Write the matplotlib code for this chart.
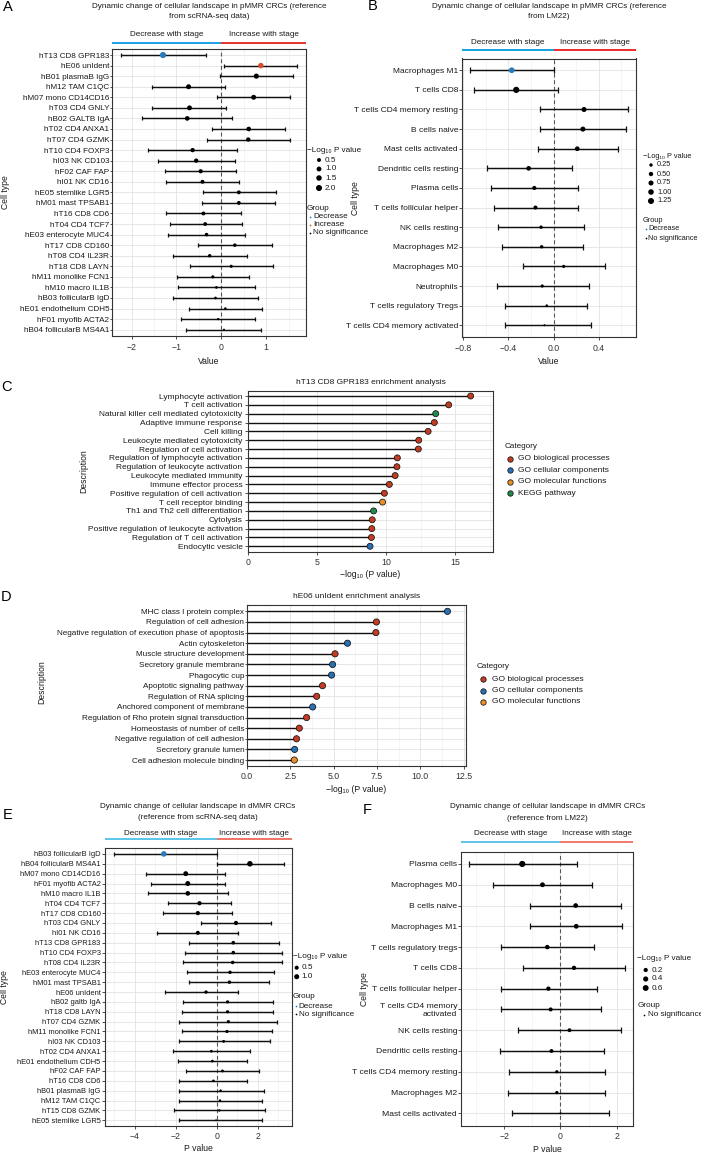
import numpy as np
import matplotlib
matplotlib.use('Agg')
import matplotlib.pyplot as plt
import matplotlib.transforms as mtransforms

plt.rcParams['font.family'] = ['Liberation Sans', 'DejaVu Sans']

W, H = 701, 1154

# ---------------- A: pMMR, scRNA-seq reference ----------------
a_cells = ['hT13 CD8 GPR183', 'hE06 unIdent', 'hB01 plasmaB IgG', 'hM12 TAM C1QC',
           'hM07 mono CD14CD16', 'hT03 CD4 GNLY', 'hB02 GALTB IgA', 'hT02 CD4 ANXA1',
           'hT07 CD4 GZMK', 'hT10 CD4 FOXP3', 'hI03 NK CD103', 'hF02 CAF FAP',
           'hI01 NK CD16', 'hE05 stemlike LGR5', 'hM01 mast TPSAB1', 'hT16 CD8 CD6',
           'hT04 CD4 TCF7', 'hE03 enterocyte MUC4', 'hT17 CD8 CD160', 'hT08 CD4 IL23R',
           'hT18 CD8 LAYN', 'hM11 monolike FCN1', 'hM10 macro IL1B', 'hB03 follicularB IgD',
           'hE01 endothelium CDH5', 'hF01 myofib ACTA2', 'hB04 follicularB MS4A1']
a_est = [-1.30, 0.88, 0.78, -0.73, 0.72, -0.71, -0.76, 0.61, 0.60, -0.64,
         -0.56, -0.46, -0.42, 0.39, 0.39, -0.40, -0.36, -0.33, 0.30, -0.26,
         0.22, -0.19, -0.11, -0.13, 0.09, -0.07, 0.06]
a_lo = [-2.24, 0.06, -0.04, -1.54, -0.10, -1.54, -1.76, -0.20, -0.32, -1.64,
        -1.41, -1.25, -1.24, -0.41, -0.42, -1.24, -1.14, -1.19, -0.53, -1.08,
        -0.70, -0.99, -0.96, -1.07, -0.71, -0.89, -0.79]
a_hi = [-0.35, 1.69, 1.59, 0.08, 1.53, 0.11, 0.24, 1.42, 1.53, 0.36,
        0.31, 0.33, 0.40, 1.21, 1.20, 0.44, 0.45, 0.53, 1.14, 0.57,
        1.16, 0.62, 0.74, 0.82, 0.90, 0.76, 0.89]
a_logp = [2.15, 1.47, 1.22, 1.11, 1.08, 1.04, 0.87, 0.86, 0.69, 0.68,
          0.70, 0.60, 0.50, 0.46, 0.46, 0.45, 0.43, 0.34, 0.32, 0.27,
          0.19, 0.19, 0.10, 0.10, 0.08, 0.05, 0.04]
a_group = ['Decrease', 'Increase'] + ['No significance'] * 25
a_ticks = [-2, -1, 0, 1]
a_ticklabels = ['\u22122', '\u22121', '0', '1']
a_size_keys = [0.5, 1.0, 1.5, 2.0]

# ---------------- B: pMMR, LM22 reference ----------------
b_cells = ['Macrophages M1', 'T cells CD8', 'T cells CD4 memory resting', 'B cells naive',
           'Mast cells activated', 'Dendritic cells resting', 'Plasma cells',
           'T cells follicular helper', 'NK cells resting', 'Macrophages M2',
           'Macrophages M0', 'Neutrophils', 'T cells regulatory Tregs',
           'T cells CD4 memory activated']
b_est = [-0.37, -0.33, 0.27, 0.26, 0.21, -0.22, -0.17, -0.16, -0.11, -0.105, 0.09, -0.10, -0.06, -0.08]
b_lo = [-0.74, -0.70, -0.12, -0.12, -0.14, -0.59, -0.55, -0.53, -0.49, -0.46, -0.27, -0.50, -0.43, -0.43]
b_hi = [0.00, 0.04, 0.66, 0.64, 0.57, 0.16, 0.22, 0.22, 0.27, 0.26, 0.46, 0.31, 0.30, 0.33]
b_logp = [1.10, 1.35, 0.76, 0.75, 0.61, 0.60, 0.42, 0.40, 0.24, 0.24, 0.20, 0.20, 0.12, 0.10]
b_group = ['Decrease'] + ['No significance'] * 13
b_ticks = [-0.8, -0.4, 0.0, 0.4]
b_ticklabels = ['\u22120.8', '\u22120.4', '0.0', '0.4']
b_size_keys = [0.25, 0.50, 0.75, 1.00, 1.25]

# ---------------- C: hT13 CD8 GPR183 enrichment ----------------
c_terms = ['Lymphocyte activation', 'T cell activation',
           'Natural killer cell mediated cytotoxicity', 'Adaptive immune response',
           'Cell killing', 'Leukocyte mediated cytotoxicity', 'Regulation of cell activation',
           'Regulation of lymphocyte activation', 'Regulation of leukocyte activation',
           'Leukocyte mediated immunity', 'Immune effector process',
           'Positive regulation of cell activation', 'T cell receptor binding',
           'Th1 and Th2 cell differentiation', 'Cytolysis',
           'Positive regulation of leukocyte activation', 'Regulation of T cell activation',
           'Endocytic vesicle']
c_vals = [16.13, 14.54, 13.60, 13.50, 13.05, 12.37, 12.34, 10.82, 10.79, 10.66,
          10.24, 9.88, 9.75, 9.10, 9.00, 8.97, 8.94, 8.84]
c_cats = ['GO biological processes', 'GO biological processes', 'KEGG pathway',
          'GO biological processes', 'GO biological processes', 'GO biological processes',
          'GO biological processes', 'GO biological processes', 'GO biological processes',
          'GO biological processes', 'GO biological processes', 'GO biological processes',
          'GO molecular functions', 'KEGG pathway', 'GO biological processes',
          'GO biological processes', 'GO biological processes', 'GO cellular components']
c_ticks = [0, 5, 10, 15]
c_ticklabels = ['0', '5', '10', '15']

# ---------------- D: hE06 unIdent enrichment ----------------
d_terms = ['MHC class I protein complex', 'Regulation of cell adhesion',
           'Negative regulation of execution phase of apoptosis', 'Actin cytoskeleton',
           'Muscle structure development', 'Secretory granule membrane', 'Phagocytic cup',
           'Apoptotic signaling pathway', 'Regulation of RNA splicing',
           'Anchored component of membrane', 'Regulation of Rho protein signal transduction',
           'Homeostasis of number of cells', 'Negative regulation of cell adhesion',
           'Secretory granule lumen', 'Cell adhesion molecule binding']
d_vals = [11.57, 7.47, 7.44, 5.80, 5.08, 4.94, 4.88, 4.36, 4.02, 3.79, 3.44, 3.02, 2.86, 2.75, 2.73]
d_cats = ['GO cellular components', 'GO biological processes', 'GO biological processes',
          'GO cellular components', 'GO biological processes', 'GO cellular components',
          'GO cellular components', 'GO biological processes', 'GO biological processes',
          'GO cellular components', 'GO biological processes', 'GO biological processes',
          'GO biological processes', 'GO cellular components', 'GO molecular functions']
d_ticks = [0, 2.5, 5, 7.5, 10, 12.5]
d_ticklabels = ['0.0', '2.5', '5.0', '7.5', '10.0', '12.5']

# ---------------- E: dMMR, scRNA-seq reference ----------------
e_cells = ['hB03 follicularB IgD', 'hB04 follicularB MS4A1', 'hM07 mono CD14CD16',
           'hF01 myofib ACTA2', 'hM10 macro IL1B', 'hT04 CD4 TCF7', 'hT17 CD8 CD160',
           'hT03 CD4 GNLY', 'hI01 NK CD16', 'hT13 CD8 GPR183', 'hT10 CD4 FOXP3',
           'hT08 CD4 IL23R', 'hE03 enterocyte MUC4', 'hM01 mast TPSAB1', 'hE06 unIdent',
           'hB02 galtb IgA', 'hT18 CD8 LAYN', 'hT07 CD4 GZMK', 'hM11 monolike FCN1',
           'hI03 NK CD103', 'hT02 CD4 ANXA1', 'hE01 endothelium CDH5', 'hF02 CAF FAP',
           'hT16 CD8 CD6', 'hB01 plasmaB IgG', 'hM12 TAM C1QC', 'hT15 CD8 GZMK',
           'hE05 stemlike LGR5']
e_est = [-2.58, 1.62, -1.51, -1.41, -1.41, -0.84, -0.92, 0.94, -0.92, 0.81,
         0.81, 0.78, 0.65, 0.62, -0.52, 0.53, 0.53, 0.57, 0.50, 0.34,
         -0.26, -0.21, 0.28, -0.16, 0.19, 0.16, 0.13, -0.03]
e_lo = [-5.02, 0.02, -3.44, -3.19, -3.37, -2.38, -2.63, -0.75, -2.90, -1.36,
        -1.56, -1.62, -1.46, -1.35, -2.53, -1.62, -1.70, -1.83, -1.70, -1.86,
        -2.12, -1.90, -1.52, -1.85, -1.86, -1.86, -2.09, -1.85]
e_hi = [0.02, 3.26, 0.42, 0.39, 0.57, 0.68, 0.76, 2.63, 1.04, 3.05,
        3.19, 3.21, 2.79, 2.56, 1.04, 2.76, 2.77, 2.95, 2.71, 2.59,
        1.64, 1.47, 2.07, 1.47, 2.29, 2.22, 2.38, 2.20]
e_logp = [1.35, 1.30, 0.90, 0.91, 0.79, 0.55, 0.54, 0.55, 0.45, 0.33,
          0.30, 0.28, 0.26, 0.27, 0.24, 0.20, 0.19, 0.19, 0.18, 0.12,
          0.10, 0.09, 0.12, 0.07, 0.06, 0.05, 0.04, 0.01]
e_group = ['Decrease'] + ['No significance'] * 27
e_ticks = [-4, -2, 0, 2]
e_ticklabels = ['\u22124', '\u22122', '0', '2']
e_size_keys = [0.5, 1.0]

# ---------------- F: dMMR, LM22 reference ----------------
f_cells = ['Plasma cells', 'Macrophages M0', 'B cells naive', 'Macrophages M1',
           'T cells regulatory tregs', 'T cells CD8', 'T cells follicular helper',
           'T cells CD4 memory\nactivated', 'NK cells resting', 'Dendritic cells resting',
           'T cells CD4 memory resting', 'Macrophages M2', 'Mast cells activated']
f_est = [-1.36, -0.64, 0.54, 0.56, -0.47, 0.48, -0.43, -0.35, 0.32, -0.32, -0.13, -0.13, 0.00]
f_lo = [-3.26, -2.40, -1.08, -1.09, -2.13, -1.32, -2.13, -2.12, -1.51, -2.16, -1.82, -1.86, -1.74]
f_hi = [0.57, 1.12, 2.16, 2.20, 1.19, 2.29, 1.29, 1.43, 2.16, 1.56, 1.57, 1.60, 1.73]
f_logp = [0.70, 0.32, 0.29, 0.30, 0.24, 0.22, 0.21, 0.16, 0.14, 0.14, 0.06, 0.06, 0.00]
f_group = ['No significance'] * 13
f_ticks = [-2, 0, 2]
f_ticklabels = ['\u22122', '0', '2']
f_size_keys = [0.2, 0.4, 0.6]

group_col = {'Decrease': '#2B7BBA', 'Increase': '#D24D2E', 'No significance': '#000000'}
cat_col = {'GO biological processes': '#C23B22', 'GO cellular components': '#2870B4',
           'GO molecular functions': '#E8902A', 'KEGG pathway': '#1F8A4C'}
TXT = '#1A1A1A'
AXC = '#333333'

fig = plt.figure(figsize=(W / 100, H / 100), dpi=100)


def px_axes(l, t, r, b):
    return fig.add_axes([l / W, 1 - b / H, (r - l) / W, (b - t) / H])


def size_of(v, vmin, vmax, dmin, dmax):
    frac = np.clip((np.asarray(v, float) - vmin) / (vmax - vmin), 0, 1)
    d = dmin + (dmax - dmin) * np.sqrt(frac)
    return (d * 0.72) ** 2


def style(ax, ticks, ticklabels, xpad, ylen, ypad, labfs):
    ax.set_xticks(ticks)
    ax.set_xticklabels(ticklabels)
    step = ticks[1] - ticks[0]
    x0, x1 = ax.get_xlim()
    minor = np.arange(ticks[0] - step / 2, x1, step)
    ax.set_xticks(minor[minor > x0], minor=True)
    ax.tick_params(axis='x', which='minor', length=0)
    ax.grid(True, which='major', color='#E3E3E3', lw=0.6)
    ax.grid(True, which='minor', axis='x', color='#EFEFEF', lw=0.45)
    ax.set_axisbelow(True)
    ax.tick_params(axis='x', which='major', length=2, width=0.6, color=AXC,
                   labelsize=6.3, labelcolor='#333333', pad=xpad)
    ax.tick_params(axis='y', which='major', length=ylen, width=0.6, color=AXC,
                   labelsize=labfs, labelcolor=TXT, pad=ypad)
    for sp in ax.spines.values():
        sp.set_color(AXC)
        sp.set_linewidth(0.8)


def forest(box, cells, est, lo, hi, logp, group, ticks, ticklabels, labfs, cap,
           dmin, dmax, xpad, ylen, ypad):
    ax = px_axes(*box)
    est, lo, hi = np.array(est), np.array(lo), np.array(hi)
    n = len(cells)
    y = np.arange(n)
    span = hi.max() - lo.min()
    ax.set_xlim(lo.min() - 0.05 * span, hi.max() + 0.05 * span)
    ax.set_ylim(n - 0.4, -0.6)
    ax.set_yticks(y)
    ax.set_yticklabels(cells)
    style(ax, ticks, ticklabels, xpad, ylen, ypad, labfs)
    ax.axvline(0, color='#555555', lw=0.8, ls=(0, (3.5, 2.5)), zorder=1.5)
    ax.errorbar(est, y, xerr=[est - lo, hi - est], fmt='none', ecolor='#111111',
                elinewidth=1.05, capsize=cap, capthick=0.9, zorder=2)
    ax.scatter(est, y, s=size_of(logp, min(logp), max(logp), dmin, dmax),
               c=[group_col[g] for g in group], linewidths=0, zorder=3)
    return ax


def header(ax, ytxt, yline, cdec, cinc):
    x0, x1 = ax.get_xlim()
    tr = mtransforms.blended_transform_factory(ax.transData, fig.transFigure)
    yl = 1 - yline / H
    yt = 1 - ytxt / H
    ax.plot([x0, 0], [yl, yl], transform=tr, color=cdec, lw=1.4, clip_on=False,
            solid_capstyle='butt')
    ax.plot([0, x1], [yl, yl], transform=tr, color=cinc, lw=1.4, clip_on=False,
            solid_capstyle='butt')
    ax.text(x0 / 2, yt, 'Decrease with stage', transform=tr, ha='center', va='center',
            fontsize=5.9, color=TXT)
    ax.text(x1 / 2, yt, 'Increase with stage', transform=tr, ha='center', va='center',
            fontsize=5.9, color=TXT)


def lollipop(box, terms, vals, cats, xmax, ticks, ticklabels, labfs, dot, xpad, ylen, ypad):
    ax = px_axes(*box)
    n = len(terms)
    y = np.arange(n)
    ax.set_xlim(0, xmax)
    ax.set_ylim(n - 0.4, -0.6)
    ax.set_yticks(y)
    ax.set_yticklabels(terms)
    style(ax, ticks, ticklabels, xpad, ylen, ypad, labfs)
    ax.hlines(y, 0, vals, color='#111111', lw=1.0, zorder=2)
    ax.scatter(vals, y, s=(dot * 0.72) ** 2, c=[cat_col[c] for c in cats],
               edgecolors='#111111', linewidths=0.55, zorder=3)
    return ax


# ---- panels ----
axA = forest((112, 48.7, 306, 336), a_cells, a_est, a_lo, a_hi, a_logp, a_group,
             a_ticks, a_ticklabels, 5.9, 1.4, 2.0, 6.2, 3.2, 1.4, 0.6)
header(axA, 35, 43, '#1EA0E6', '#E8322B')

axB = forest((462, 58.5, 636, 337), b_cells, b_est, b_lo, b_hi, b_logp, b_group,
             b_ticks, b_ticklabels, 6.0, 1.9, 2.0, 6.2, 2.8, 2.3, 0.5)
header(axB, 42, 50, '#15A3E2', '#EE2A2A')

axC = lollipop((248, 390.7, 493, 551.6), c_terms, c_vals, c_cats, 17.75,
               c_ticks, c_ticklabels, 6.0, 6.0, 2.4, 2.5, 1.5)
axD = lollipop((247, 605, 466, 766.4), d_terms, d_vals, d_cats, 12.64,
               d_ticks, d_ticklabels, 5.9, 6.2, 2.1, 1.5, 0.5)

axE = forest((105.3, 848, 292, 1126.2), e_cells, e_est, e_lo, e_hi, e_logp, e_group,
             e_ticks, e_ticklabels, 5.4, 1.3, 1.8, 5.6, 2.4, 2.4, 1.0)
header(axE, 833.3, 839.3, '#5CC3EC', '#F07468')

axF = forest((461, 851.5, 632.7, 1125.8), f_cells, f_est, f_lo, f_hi, f_logp, f_group,
             f_ticks, f_ticklabels, 6.1, 1.9, 2.0, 6.2, 2.4, 2.3, 0.5)
header(axF, 833.3, 842.3, '#5FC4EC', '#F0786C')

# ---- overlay for titles, labels and legends (pixel coordinates) ----
ov = fig.add_axes([0, 0, 1, 1], zorder=10)
ov.set_xlim(0, W)
ov.set_ylim(H, 0)
ov.axis('off')


def txt(x, y, s, fs=6.0, ha='left', **kw):
    ov.text(x, y, s, fontsize=fs, ha=ha, va='center', color=kw.pop('color', TXT), **kw)


for lab, x, y in [('A', 8, 7), ('B', 373, 6), ('C', 6, 386.7), ('D', 6, 596.7),
                  ('E', 7.5, 815), ('F', 367.5, 810)]:
    txt(x, y, lab, fs=10.5, ha='center', color='black')

txt(209, 6, 'Dynamic change of cellular landscape in pMMR CRCs (reference', 5.9, 'center')
txt(209, 16, 'from scRNA-seq data)', 5.9, 'center')
txt(549, 6, 'Dynamic change of cellular landscape in pMMR CRCs (reference', 5.9, 'center')
txt(549, 16, 'from LM22)', 5.9, 'center')
txt(371, 382.7, 'hT13 CD8 GPR183 enrichment analysis', 6.0, 'center')
txt(357, 596.7, 'hE06 unIdent enrichment analysis', 6.0, 'center')
txt(198, 806.7, 'Dynamic change of cellular landscape in dMMR CRCs', 5.9, 'center')
txt(198, 817.7, '(reference from scRNA-seq data)', 5.9, 'center')
txt(547.5, 806.7, 'Dynamic change of cellular landscape in dMMR CRCs', 5.9, 'center')
txt(547.5, 818.3, '(reference from LM22)', 5.9, 'center')

# axis titles
txt(209, 361.7, 'Value', 6.2, 'center')
txt(549, 361.7, 'Value', 6.2, 'center')
txt(370.5, 574.3, '\u2212log\u2081\u2080 (P value)', 6.2, 'center')
txt(356.5, 790, '\u2212log\u2081\u2080 (P value)', 6.2, 'center')
txt(198.6, 1148.3, 'P value', 6.2, 'center')
txt(547, 1149, 'P value', 6.2, 'center')
txt(5.5, 192.4, 'Cell type', 6.2, 'center', rotation=90)
txt(355, 197.7, 'Cell type', 6.2, 'center', rotation=90)
txt(84, 471, 'Description', 6.2, 'center', rotation=90)
txt(41.5, 682, 'Description', 6.2, 'center', rotation=90)
txt(4.5, 987, 'Cell type', 6.2, 'center', rotation=90)
txt(364.5, 988.7, 'Cell type', 6.2, 'center', rotation=90)


def size_legend(x, ytitle, ys, keys, logp, dmin, dmax, dotx, labx, fs, fmt):
    txt(x, ytitle, '\u2212Log\u2081\u2080 P value', fs)
    ov.scatter([dotx] * len(keys), ys, s=size_of(keys, min(logp), max(logp), dmin, dmax),
               c='black', linewidths=0)
    for yy, k in zip(ys, keys):
        txt(labx, yy, fmt.format(k), fs)


def group_legend(x, ytitle, ys, groups, dotx, labx, fs):
    txt(x, ytitle, 'Group', fs)
    for yy, g in zip(ys, groups):
        ov.scatter([dotx], [yy], s=(1.7 * 0.72) ** 2, c=group_col[g], linewidths=0)
        txt(labx, yy, g, fs)


def cat_legend(x, ytitle, ys, cats, dotx, labx):
    txt(x, ytitle, 'Category', 5.9)
    for yy, c in zip(ys, cats):
        ov.scatter([dotx], [yy], s=(5.4 * 0.72) ** 2, c=cat_col[c], edgecolors='#111111',
                   linewidths=0.55)
        txt(labx, yy, c, 6.0)


size_legend(307, 150, [160, 169, 178, 188], a_size_keys, a_logp, 2.0, 6.2, 319, 325, 5.9, '{:.1f}')
group_legend(307, 208, [217, 225, 233], ['Decrease', 'Increase', 'No significance'], 310, 313, 5.9)

size_legend(643, 157, [165, 174, 183, 192, 201], b_size_keys, b_logp, 2.0, 6.2, 651, 657, 5.3, '{:.2f}')
group_legend(643, 221, [229, 238], ['Decrease', 'No significance'], 645.5, 648.5, 5.3)

cat_legend(504.5, 447, [458.7, 470, 481.5, 493.3],
           ['GO biological processes', 'GO cellular components', 'GO molecular functions',
            'KEGG pathway'], 510, 518)
cat_legend(476.7, 666.7, [679.3, 691, 701.7],
           ['GO biological processes', 'GO cellular components', 'GO molecular functions'],
           483.3, 491.7)

size_legend(293, 956.7, [967.7, 976.7], e_size_keys, e_logp, 1.8, 5.6, 296.7, 301.7, 5.9, '{:.1f}')
group_legend(293, 996.7, [1006, 1014.3], ['Decrease', 'No significance'], 296, 298.8, 5.9)

size_legend(637.3, 959, [970, 979, 988], f_size_keys, f_logp, 2.0, 6.2, 645.7, 651.7, 5.9, '{:.1f}')
group_legend(637.3, 1005.7, [1015], ['No significance'], 644, 647.7, 5.9)

fig.savefig('out.png', dpi=100)
